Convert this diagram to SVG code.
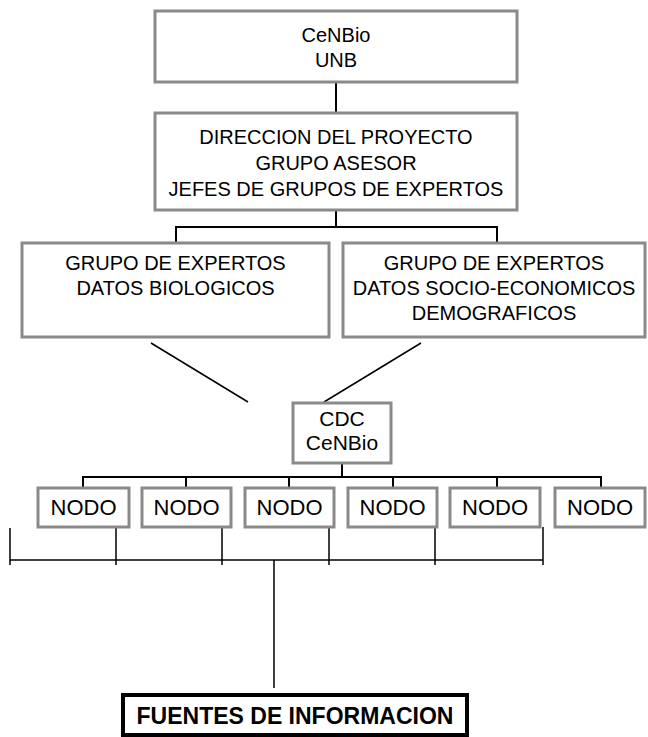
<svg xmlns="http://www.w3.org/2000/svg" width="648" height="737" viewBox="0 0 648 737">
<style>
.box{fill:#fff;stroke:#8a8a8a;stroke-width:3}
.t{font-family:"Liberation Sans",Arial,sans-serif;font-size:20px;fill:#000;text-anchor:middle}
.s{font-size:22px}
.m{font-size:21px}
.c{stroke:#000;stroke-width:2;fill:none}
.d{stroke:#000;stroke-width:1.5;fill:none}
.fb{fill:#fff;stroke:#000;stroke-width:4}
.ft{font-family:"Liberation Sans",Arial,sans-serif;font-size:23px;font-weight:bold;fill:#000;text-anchor:middle}
</style>
<g id="connectors">
<path class="c" d="M336 82V113M336 210V227M176 248V227H497V243"/>
<path class="d" d="M151 343L248 402M421 343L324 402"/>
<path class="c" d="M342 463V477M83 488V477H601V488M186 477V488M289 477V488M393 477V488M497 477V488"/>
<path class="d" d="M10 560H543M10 528V565M116 527V565M222 527V565M329 527V565M435 527V565M543 527V565M274 560V688"/>
</g>
<g id="cenbio"><rect class="box" x="155" y="11" width="362" height="71"/><text class="t" x="336" y="42">CeNBio</text><text class="t" x="336" y="67">UNB</text></g>
<g id="direccion"><rect class="box" x="155" y="113" width="362" height="97"/><text class="t" x="336" y="144">DIRECCION DEL PROYECTO</text><text class="t" x="336" y="170">GRUPO ASESOR</text><text class="t" x="336" y="196">JEFES DE GRUPOS DE EXPERTOS</text></g>
<g id="bio"><rect class="box" x="22" y="243" width="307" height="94"/><text class="t" x="175.5" y="270">GRUPO DE EXPERTOS</text><text class="t" x="175.5" y="295">DATOS BIOLOGICOS</text></g>
<g id="socio"><rect class="box" x="343" y="243" width="302" height="94"/><text class="t" x="494" y="270">GRUPO DE EXPERTOS</text><text class="t" x="494" y="295">DATOS SOCIO-ECONOMICOS</text><text class="t" x="494" y="320">DEMOGRAFICOS</text></g>
<g id="cdc"><rect class="box" x="293" y="403" width="98" height="60"/><text class="t m" x="342" y="426">CDC</text><text class="t m" x="342" y="450">CeNBio</text></g>
<g id="nodo1"><rect class="box" x="38" y="488" width="91" height="39"/><text class="t s" x="83.5" y="515">NODO</text></g>
<g id="nodo2"><rect class="box" x="142" y="488" width="89" height="39"/><text class="t s" x="186.5" y="515">NODO</text></g>
<g id="nodo3"><rect class="box" x="245" y="488" width="89" height="39"/><text class="t s" x="289.5" y="515">NODO</text></g>
<g id="nodo4"><rect class="box" x="348" y="488" width="89" height="39"/><text class="t s" x="392.5" y="515">NODO</text></g>
<g id="nodo5"><rect class="box" x="450" y="488" width="90" height="39"/><text class="t s" x="495" y="515">NODO</text></g>
<g id="nodo6"><rect class="box" x="555" y="488" width="90" height="39"/><text class="t s" x="600" y="515">NODO</text></g>
<g id="fuentes"><rect class="fb" x="123" y="695" width="344" height="40"/><text class="ft" x="295" y="724">FUENTES DE INFORMACION</text></g>
</svg>
